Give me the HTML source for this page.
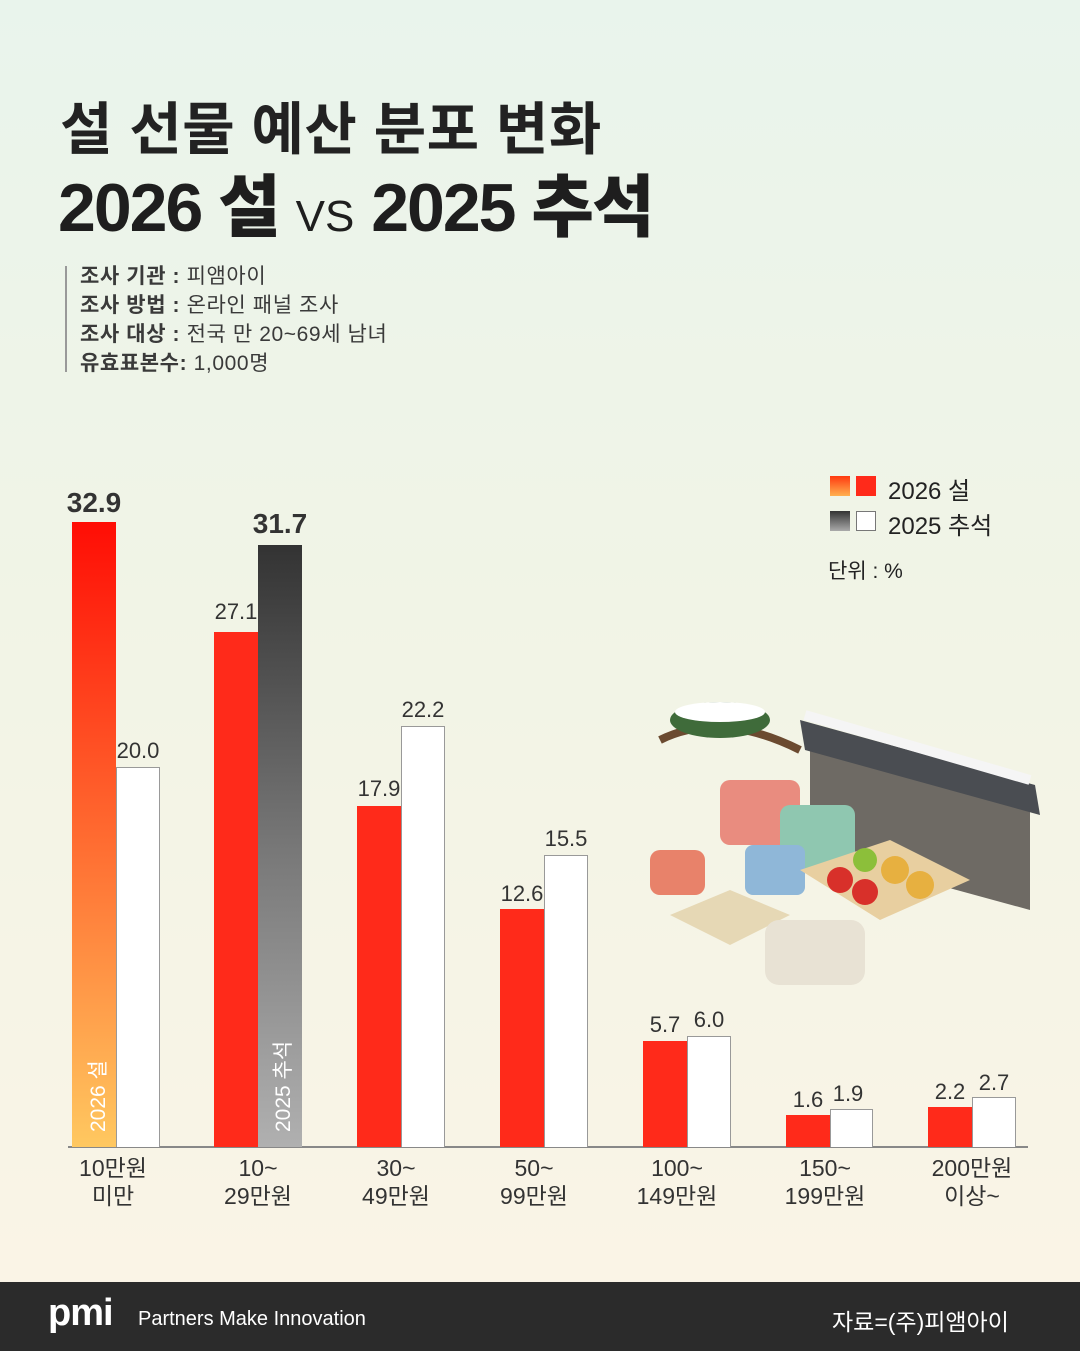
<!DOCTYPE html>
<html><head><meta charset="utf-8">
<style>
*{margin:0;padding:0;box-sizing:border-box}
body{width:1080px;height:1351px;overflow:hidden;font-family:"Liberation Sans","Noto Sans CJK KR",sans-serif;}
.wrap{position:relative;width:1080px;height:1351px;background:linear-gradient(#e9f4ec 0%,#f1f4e6 45%,#fbf4e6 100%);}
.abs{position:absolute}
.t1{left:60px;top:84px;font-size:57px;font-weight:700;color:#222;letter-spacing:0.5px}
.t2{left:58px;top:152px;font-size:68px;font-weight:800;color:#1e1e1e;letter-spacing:-2px}
.info{left:80px;top:262px;font-size:21px;line-height:29px;color:#3a3a3a;letter-spacing:0.6px}
.info b{font-weight:600}
.vl{left:65px;top:266px;width:2px;height:106px;background:#999}
.bar{position:absolute;bottom:204px}
.r{background:#ff2a1a}
.w{background:#fff;border:1px solid #999;border-bottom:none}
.lab{position:absolute;font-size:22px;color:#333;text-align:center;width:70px}
.xl{position:absolute;top:1154px;font-size:23px;line-height:28px;color:#333;text-align:center;width:140px}
.foot{left:0;top:1282px;width:1080px;height:69px;background:#2b2b2b;color:#fff}
</style></head><body><div class="wrap">
<div class="abs t1">설 선물 예산 분포 변화</div>
<div class="abs t2">2026 설 <span style="font-weight:400;font-size:44px;letter-spacing:0">VS</span> 2025 추석</div>
<div class="abs vl"></div>
<div class="abs info"><b>조사 기관 :</b> 피앰아이<br><b>조사 방법 :</b> 온라인 패널 조사<br><b>조사 대상 :</b> 전국 만 20~69세 남녀<br><b>유효표본수:</b> 1,000명</div>

<div class="abs" style="left:830px;top:476px;width:20px;height:20px;background:linear-gradient(#ff3a10,#ffb050)"></div>
<div class="abs" style="left:856px;top:476px;width:20px;height:20px;background:#ff2a1a"></div>
<div class="abs" style="left:888px;top:471px;font-size:24px;color:#222">2026 설</div>
<div class="abs" style="left:830px;top:511px;width:20px;height:20px;background:linear-gradient(#333,#aaa)"></div>
<div class="abs" style="left:856px;top:511px;width:20px;height:20px;background:#fff;border:1px solid #777"></div>
<div class="abs" style="left:888px;top:506px;font-size:24px;color:#222">2025 추석</div>
<div class="abs" style="left:828px;top:555px;font-size:21px;color:#222">단위 : %</div>

<svg class="abs" style="left:640px;top:680px" width="420" height="320">
<path d="M170 60 L390 120 L390 230 L170 170 Z" fill="#6e6a64"/>
<path d="M160 40 L395 105 L400 135 L165 70 Z" fill="#4a4d52"/>
<path d="M165 35 L390 100" stroke="#f5f5f5" stroke-width="10"/>
<path d="M20 60 Q80 30 160 70" stroke="#6b4a30" stroke-width="8" fill="none"/>
<ellipse cx="80" cy="40" rx="50" ry="18" fill="#3f6b3a"/><ellipse cx="80" cy="32" rx="45" ry="10" fill="#fff"/>
<rect x="80" y="100" width="80" height="65" rx="10" fill="#e98c7f"/>
<rect x="140" y="125" width="75" height="65" rx="10" fill="#8fc7b0"/>
<rect x="105" y="165" width="60" height="50" rx="8" fill="#8fb7d8"/>
<rect x="10" y="170" width="55" height="45" rx="10" fill="#e8826a"/>
<path d="M160 190 L250 160 L330 200 L240 240 Z" fill="#e8cfa0"/>
<circle cx="200" cy="200" r="13" fill="#d8302a"/><circle cx="225" cy="212" r="13" fill="#d8302a"/>
<circle cx="255" cy="190" r="14" fill="#e7b040"/><circle cx="280" cy="205" r="14" fill="#e7b040"/>
<circle cx="225" cy="180" r="12" fill="#8cbf3a"/>
<path d="M30 235 L90 210 L150 235 L90 265 Z" fill="#e6d8b5"/>
<rect x="125" y="240" width="100" height="65" rx="14" fill="#e8e2d4"/>
</svg>

<div class="abs" style="left:68px;top:1146px;width:960px;height:2px;background:#888"></div>

<div class="bar" style="left:72px;width:44px;height:625px;background:linear-gradient(#ff0d05,#ff6a30 50%,#ffc860)"></div>
<div class="bar w" style="left:116px;width:44px;height:380px"></div>
<div class="bar r" style="left:214px;width:44px;height:515px"></div>
<div class="bar" style="left:258px;width:44px;height:602px;background:linear-gradient(#333,#777 50%,#b0b0b0)"></div>
<div class="bar r" style="left:357px;width:44px;height:341px"></div>
<div class="bar w" style="left:401px;width:44px;height:421px"></div>
<div class="bar r" style="left:500px;width:44px;height:238px"></div>
<div class="bar w" style="left:544px;width:44px;height:292px"></div>
<div class="bar r" style="left:643px;width:44px;height:106px"></div>
<div class="bar w" style="left:687px;width:44px;height:111px"></div>
<div class="bar r" style="left:786px;width:44px;height:32px"></div>
<div class="bar w" style="left:830px;width:43px;height:38px"></div>
<div class="bar r" style="left:928px;width:44px;height:40px"></div>
<div class="bar w" style="left:972px;width:44px;height:50px"></div>

<div class="abs" style="left:82px;top:1132px;transform:rotate(-90deg);transform-origin:0 0;font-size:21px;color:#fff;white-space:nowrap">2026 설</div>
<div class="abs" style="left:267px;top:1132px;transform:rotate(-90deg);transform-origin:0 0;font-size:21px;color:#fff;white-space:nowrap">2025 추석</div>

<div class="lab" style="left:59px;top:487px;font-size:28px;font-weight:700">32.9</div>
<div class="lab" style="left:103px;top:738px">20.0</div>
<div class="lab" style="left:201px;top:599px">27.1</div>
<div class="lab" style="left:245px;top:508px;font-size:28px;font-weight:700">31.7</div>
<div class="lab" style="left:344px;top:776px">17.9</div>
<div class="lab" style="left:388px;top:697px">22.2</div>
<div class="lab" style="left:487px;top:881px">12.6</div>
<div class="lab" style="left:531px;top:826px">15.5</div>
<div class="lab" style="left:630px;top:1012px">5.7</div>
<div class="lab" style="left:674px;top:1007px">6.0</div>
<div class="lab" style="left:773px;top:1087px">1.6</div>
<div class="lab" style="left:813px;top:1081px">1.9</div>
<div class="lab" style="left:915px;top:1079px">2.2</div>
<div class="lab" style="left:959px;top:1070px">2.7</div>

<div class="xl" style="left:43px">10만원<br>미만</div>
<div class="xl" style="left:188px">10~<br>29만원</div>
<div class="xl" style="left:326px">30~<br>49만원</div>
<div class="xl" style="left:464px">50~<br>99만원</div>
<div class="xl" style="left:607px">100~<br>149만원</div>
<div class="xl" style="left:755px">150~<br>199만원</div>
<div class="xl" style="left:902px">200만원<br>이상~</div>

<div class="abs foot">
<div class="abs" style="left:48px;top:10px;font-size:38px;font-weight:800;letter-spacing:-1px">pmi</div>
<div class="abs" style="left:138px;top:26px;font-size:20px">Partners Make Innovation</div>
<div class="abs" style="left:832px;top:21px;font-size:23px">자료=(주)피앰아이</div>
</div>
</div></body></html>
